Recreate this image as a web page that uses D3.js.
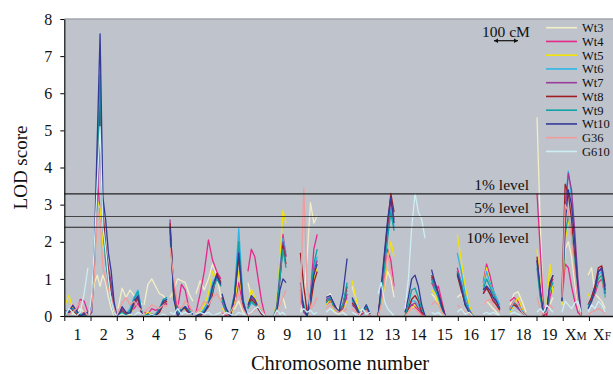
<!DOCTYPE html>
<html><head><meta charset="utf-8">
<script src="https://cdn.jsdelivr.net/npm/d3@7"></script>
<style>body{margin:0;background:#fff}svg{display:block}</style>
</head><body><svg id="c" width="613" height="374"></svg>
<script>
// ---------- data ----------
const chromosomes = ["1","2","3","4","5","6","7","8","9","10","11","12","13","14","15","16","17","18","19","XM","XF"];
// extent of each chromosome's curve along the axis (axis units: one unit per chromosome slot)
const chrStart = [0.03,0.94,2.05,3.04,4.03,5.02,6.01,7.0,7.99,9.0,9.98,10.97,11.96,12.99,14.0,14.98,15.97,16.99,18.02,18.97,19.97];
const chrEnd   = [0.9,2.0,2.96,3.92,4.9,5.97,6.97,7.65,8.45,9.64,10.78,11.65,12.57,13.75,14.52,15.58,16.6,17.6,18.63,19.70,20.62];
const yTicks = [0,1,2,3,4,5,6,7,8];
const thresholds = [3.29, 2.68, 2.39];
const thresholdLabels = ["1% level","5% level","10% level"];
const seriesNames = ["Wt3","Wt4","Wt5","Wt6","Wt7","Wt8","Wt9","Wt10","G36","G610"];
const seriesColors = ["#f3efc6","#e6288c","#f2e30a","#2cb6ea","#9a3c9c","#a01e22","#10a2a4","#333a98","#f19c9c","#cdeef5"];

const wt3 = [[0.1,0.15,0.05,0.1,0.2,0.1,0.05],[0,0.3,0.9,1.1,0.8,1.1,0.9,0.5,0.2,0,0],[0.2,0.75,0.5,0.7,0.55,0.45,0.3],[0.3,0.85,1.0,0.8,0.6,0.55,0.4],[0.5,0.7,1.0,0.95,0.9,0.6,0.4],[0.6,0.95,0.7,1.0,1.4,1.1,0.5],[0.1,0.05,0.1,0.2,0.4,0.1,0],[0.9,0.5,0.3,0.2,0.1,0],[0,0.1,0.3,0.5,0.2],[0.1,0.4,1.6,3.05,2.5,2.7],[0.5,0.6,0.3,0.2,0.1,0],[0.8,0.5,0.1,0.2,0.3,0.1],[0.1,0.3,0.8,1.2,1.0,0.5],[0,0.1,0.2,0.3,0.1,0.05,0],[0.6,0.5,0.3,0.1,0],[0.5,0.6,0.3,0.1,0],[0.3,0.4,0.3,0.2,0.1,0],[0.3,0.6,0.65,0.4,0.1],[5.35,2.5,0.3,0.1,0.3,0.5],[0.3,1.8,2.0,1.6,0.9,0.3,0],[1.1,1.3,0.6,0.5,0.4,0.2]];
const wt4 = [[0.15,0.1,0.3,0.1,0.45,0.4,0.1],[0,0.3,1.5,3.7,2.8,2.3,1.5,1.0,0.6,0.2,0],[0,0.1,0.05,0.15,0.2,0.35,0.1],[0.1,0.05,0.2,0.15,0.2,0.4,0.3],[2.1,0.8,0.2,0.85,0.7,0.2,0.1],[0.1,0.6,1.2,2.05,1.5,1.2,1.0],[0.1,0,0.1,0.3,0.9,0.3,0],[1.2,1.8,1.6,1.0,0.4,0],[0,0.3,1.2,2.2,1.6],[0.5,0.2,0.1,0.6,1.8,2.2],[0.3,0.4,0.2,0.1,0.3,0.5],[0.4,0.3,0.05,0.1,0.2,0],[0,0.4,1.0,1.8,1.5,0.8],[0.4,0.2,0.3,0.25,0.15,0.05,0],[0.9,0.7,0.8,0.4,0],[1.3,0.9,0.4,0.1,0],[0.9,1.4,1.1,0.7,0.4,0.2],[0.4,0.5,0.4,0.2,0],[3.3,1.8,0.3,0,0.5,0.8],[0.4,1.4,1.3,0.8,0.4,0.1,0],[0.2,0.4,0.6,0.9,1.0,0.5]];
const wt5 = [[0.3,0.55,0.2,0.05,0,0.1,0.05],[0,0.2,1.2,3.1,2.9,1.9,1.6,1.3,0.8,0.2,0],[0,0.05,0.1,0,0.3,0.5,0.1],[0,0.1,0.05,0,0.1,0.3,0.35],[2.2,0.4,0.05,0.15,0.2,0.15,0.1],[0.05,0.1,0.3,0.6,1.2,1.0,0.9],[0.2,0.1,0,0.3,1.2,0.4,0],[0.3,0.72,0.5,0.3,0.1,0],[0,0.4,1.5,2.85,2.5],[0.8,0.2,0,0.3,1.0,1.3],[0.3,0.45,0.1,0.05,0.2,0.4],[0.95,0.5,0.1,0.15,0.25,0.05],[0,0.3,0.8,1.5,2.0,1.6],[0,0.1,0.2,0.3,0.2,0.1,0],[0.7,0.6,0.3,0.1,0],[2.2,1.5,0.8,0.3,0],[0.8,1.3,0.9,0.6,0.3,0.2],[0.1,0.3,0.5,0.2,0],[1.8,0.8,0.1,0.2,1.4,0.6],[0.3,2.0,2.6,2.2,1.3,0.5,0],[0.6,0.4,0.7,1.0,1.1,0.5]];
const wt6 = [[0.05,0.2,0.15,0.05,0,0.05,0.1],[0,0.1,1.5,3.5,5.5,2.4,1.6,1.2,0.8,0.2,0],[0,0.1,0.05,0.2,0.5,0.7,0.1],[0,0,0.05,0,0.15,0.4,0.45],[2.3,0.5,0.1,0.2,0.25,0.1,0.15],[0,0.05,0.2,0.4,0.9,1.1,0.9],[0.4,0.1,0.05,0.6,2.35,0.5,0],[0.2,0.35,0.3,0.2,0.1,0],[0,0.3,1.3,2.1,1.7],[0.8,0.2,0.1,0.6,1.3,1.6],[0.4,0.5,0.2,0.1,0.3,0.7],[0.4,0.3,0.1,0.1,0.3,0.1],[0,0.6,1.4,2.2,2.9,2.4],[0,0.2,0.4,0.4,0.3,0.1,0],[1.0,0.8,0.5,0.2,0],[1.7,1.2,0.6,0.2,0],[0.8,1.2,0.9,0.7,0.5,0.3],[0.2,0.35,0.3,0.15,0],[1.4,0.6,0.1,0.2,0.7,0.9],[0.5,3.0,3.9,3.2,2.0,0.8,0.1],[0.2,0.5,0.8,1.1,1.2,0.5]];
const wt7 = [[0.1,0.05,0.2,0.1,0,0.1,0.05],[0,0.1,1.4,3.2,4.8,2.6,1.8,1.3,0.9,0.3,0],[0,0.2,0.1,0.05,0.3,0.45,0.05],[0,0.05,0,0.05,0.1,0.3,0.35],[2.6,0.5,0,0.15,0.25,0.1,0.05],[0,0.1,0.1,0.3,0.7,1.05,0.8],[0.4,0.1,0,0.5,1.8,0.4,0],[0.25,0.5,0.4,0.2,0.05,0],[0,0.2,1.1,2.0,1.6],[0.7,0.1,0,0.4,1.2,1.5],[0.45,0.5,0.3,0.1,0.2,0.6],[0.3,0.2,0.05,0.05,0.2,0],[0,0.7,1.5,2.4,3.1,2.6],[0.1,0.2,0.3,0.35,0.2,0.1,0],[1.05,0.8,0.6,0.3,0],[1.2,0.8,0.4,0.15,0],[0.6,0.8,0.6,0.5,0.3,0.2],[0.25,0.3,0.2,0.1,0],[1.5,0.6,0.05,0.1,0.8,1.0],[0.4,2.8,3.85,3.4,2.3,1.0,0.1],[0.3,0.5,0.8,1.2,1.25,0.6]];
const wt8 = [[0.05,0.1,0.15,0.05,0,0.05,0],[0,0.2,1.6,3.8,5.8,2.8,1.9,1.2,0.6,0.1,0],[0,0.15,0.05,0.1,0.35,0.5,0.05],[0,0,0.05,0,0.1,0.35,0.4],[2.5,0.6,0.05,0.2,0.2,0.05,0.1],[0,0,0.1,0.25,0.6,1.15,0.9],[0.5,0.2,0,0.5,1.6,0.3,0],[0.2,0.45,0.35,0.2,0.05,0],[0,0.2,1.0,1.9,1.4],[1.7,0.8,0.1,0.3,0.9,1.2],[0.4,0.45,0.25,0.1,0.3,0.8],[0.35,0.25,0,0.1,0.2,0.05],[0,0.7,1.6,2.5,3.3,2.8],[0,0.2,0.45,0.55,0.4,0.1,0],[1.1,0.9,0.6,0.3,0],[1.1,0.7,0.3,0.1,0],[0.6,0.75,0.6,0.4,0.3,0.15],[0.2,0.3,0.25,0.1,0],[1.6,0.7,0,0.1,0.8,1.1],[0.6,3.55,3.3,2.6,1.6,0.6,0],[0.3,0.5,0.8,1.3,1.35,0.8]];
const wt9 = [[0,0.15,0.2,0.1,0.05,0,0.05],[0,0.2,1.8,4.0,6.5,2.5,1.5,0.9,0.4,0.1,0],[0,0.1,0,0.15,0.45,0.65,0.1],[0,0.05,0,0.05,0.2,0.45,0.5],[2.3,0.5,0.05,0.2,0.25,0.15,0.05],[0,0.05,0.15,0.3,0.7,1.0,0.8],[0.45,0.15,0.05,0.6,2.0,0.4,0],[0.2,0.4,0.3,0.25,0.1,0],[0,0.2,1.0,1.8,1.3],[0.6,0.3,0,0.5,1.4,1.8],[0.35,0.5,0.2,0.15,0.3,0.9],[0.45,0.3,0.1,0.1,0.25,0.05],[0,0.6,1.3,2.1,2.8,2.3],[0,0.3,0.7,0.75,0.5,0.2,0],[1.0,0.7,0.5,0.2,0],[1.2,0.9,0.4,0.1,0],[0.7,1.0,0.8,0.6,0.4,0.2],[0.15,0.35,0.3,0.1,0],[1.3,0.5,0.1,0.1,0.7,0.9],[0.4,2.2,2.7,2.2,1.4,0.5,0],[0.3,0.4,0.7,1.0,1.1,0.6]];
const wt10 = [[0.05,0.1,0.28,0.15,0,0.05,0.1],[0,0.3,2.0,4.8,7.6,3.2,2.6,1.7,1.2,0.4,0],[0,0.25,0.1,0.05,0.4,0.55,0.05],[0,0,0.05,0,0.15,0.4,0.45],[2.4,0.45,0,0.15,0.25,0.1,0.05],[0,0.05,0.1,0.3,0.8,1.1,0.85],[0.6,0.2,0,0.55,1.7,0.4,0],[0.3,0.55,0.45,0.25,0.1,0],[0,0.1,0.7,1.0,0.9],[0.9,0.2,0,0.5,1.1,1.4],[0.5,0.55,0.3,0.1,0.6,1.55],[0.5,0.3,0.05,0.15,0.3,0.05],[0,0.8,1.7,2.6,3.2,2.5],[0.1,0.5,1.0,1.1,0.8,0.3,0],[1.25,0.9,0.6,0.25,0],[1.15,0.8,0.3,0.1,0],[0.7,0.8,0.7,0.5,0.4,0.2],[0.2,0.4,0.25,0.1,0],[1.5,0.7,0.1,0.1,0.9,1.1],[0.4,2.5,3.4,3.0,2.0,0.8,0],[0.2,0.4,0.7,1.2,1.3,0.7]];
const g36 = [[0.1,0.05,0.1,0.2,0.4,0.15,0],[0,0.2,1.2,2.8,2.6,1.3,1.0,0.7,0.5,0.2,0],[0.1,0.35,0.5,0.3,0.4,0.25,0.15],[0.1,0.2,0.3,0.25,0.2,0.3,0.25],[1.85,1.0,0.3,0.2,0.4,0.3,0.1],[0.1,0.2,0.4,0.3,0.5,0.6,0.4],[0.1,0.05,0.1,0.3,0.6,0.2,0],[0,0.1,0.15,0.3,0.2,0],[0,0.1,0.3,0.5,0.7],[0.3,3.45,0.8,0.2,0.3,0.5],[0.2,0.3,0.2,0.1,0.1,0.2],[0.2,0.1,0.05,0.1,0.15,0],[0,0.3,0.9,1.7,1.2,0.7],[0,0.1,0.2,0.2,0.1,0,0],[0.3,0.4,0.3,0.1,0],[0.3,0.2,0.1,0.05,0],[0.3,0.4,0.45,0.3,0.2,0.1],[0.2,0.4,0.3,0.1,0],[0.5,0.2,0.05,0.1,0.3,0.2],[0.5,3.0,2.8,2.1,1.2,0.4,0],[0.05,0.1,0.15,0.2,0.15,0.05]];
const g610 = [[0,0.2,0.1,0,0.1,0.6,1.3],[0,0.6,2.0,3.6,5.1,2.4,1.8,1.0,0.4,0.1,0],[0,0.05,0,0.05,0,0.1,0.05],[0,0,0.05,0,0,0.05,0],[0.1,0.05,0.2,0.05,0.1,0.05,0.1],[0.05,0.1,0.05,0.1,0,0.05,0.1],[0,0.1,0.05,0,0.1,0.05,0],[0.05,0.1,0.2,0.25,0.1,0],[0,0.15,0.05,0.1,0],[0.1,0.2,0.1,0.15,0.05,0.1],[0.1,0.2,0.1,0.05,0.1,0],[0.1,0.05,0,0.2,0.05,0.1],[0.6,0.9,0.4,0.2,0.1,0],[0.2,1.0,2.4,3.3,2.8,2.6,2.1],[0.1,0.05,0.1,0,0],[0.1,0.2,0.05,0.1,0],[0.05,0.1,0.05,0.1,0.05,0],[0.05,0.1,0.05,0,0],[0.1,0.2,0.1,0.3,0.2,0.1],[0.1,0.4,0.3,0.2,0.35,0.4,0.1],[0.1,0.3,0.2,0.4,0.3,0.1]];
const seriesValues = [wt3,wt4,wt5,wt6,wt7,wt8,wt9,wt10,g36,g610];

// ---------- drawing ----------
const W = 613, H = 374;
const svg = d3.select("#c");
const serif = "'Liberation Serif','Times New Roman',serif";
const x = d3.scaleLinear().domain([0, 21]).range([64.3, 615.2]);
const y = d3.scaleLinear().domain([0, 8]).range([316, 19]);

svg.append("defs").append("clipPath").attr("id","clip")
  .append("rect").attr("x", x(0)).attr("y", y(8)).attr("width", W - x(0)).attr("height", y(0) - y(8));

svg.append("rect").attr("x", x(0)).attr("y", y(8)).attr("width", W - x(0)).attr("height", y(0) - y(8)).attr("fill", "#bfc3cb");
svg.append("line").attr("x1", x(0)).attr("x2", W).attr("y1", y(8)).attr("y2", y(8)).attr("stroke", "#a2a6ab").attr("stroke-width", 1.5);

// series
const line = d3.line().x(d => x(d[0])).y(d => y(d[1]));
const plot = svg.append("g").attr("clip-path", "url(#clip)");
seriesValues.forEach((s, i) => {
  s.forEach((vals, c) => {
    const n = vals.length;
    const pts = vals.map((v, j) => [chrStart[c] + (chrEnd[c] - chrStart[c]) * j / (n - 1), v]);
    plot.append("path").attr("d", line(pts)).attr("fill", "none")
      .attr("stroke", seriesColors[i]).attr("stroke-width", 1.3).attr("stroke-linejoin", "round");
  });
});

// thresholds
const thrG = svg.append("g");
thresholds.forEach((t, i) => {
  thrG.append("line").attr("x1", x(0)).attr("x2", W).attr("y1", y(t)).attr("y2", y(t))
    .attr("stroke", i === 1 ? "#444" : "#222").attr("stroke-width", 1.2);
  thrG.append("text").attr("x", 529).attr("y", y(t) + (i === 2 ? 16 : -4))
    .attr("text-anchor", "end").attr("font-family", serif).attr("font-size", 15.5).attr("fill", "#111")
    .text(thresholdLabels[i]);
});

// y axis
const yAx = svg.append("g").attr("transform", `translate(${x(0)},0)`)
  .call(d3.axisLeft(y).tickValues(yTicks).tickSize(4).tickSizeOuter(0).tickPadding(8));
yAx.selectAll("text").attr("font-family", serif).attr("font-size", 16).attr("fill", "#111");
yAx.select(".domain").attr("stroke", "#111").attr("stroke-width", 1.2);

// x axis
const xAx = svg.append("g").attr("transform", `translate(0,${y(0)})`)
  .call(d3.axisBottom(x).tickValues(d3.range(0, 21)).tickSize(5).tickSizeOuter(0).tickFormat(""));
xAx.select(".domain").attr("stroke", "#111").attr("stroke-width", 1.5);
xAx.selectAll(".tick line").attr("stroke", "#111");
chromosomes.forEach((c, i) => {
  const t = svg.append("text").attr("x", x(i + 0.5)).attr("y", 340).attr("text-anchor", "middle")
    .attr("font-family", serif).attr("font-size", 16).attr("fill", "#111");
  if (c.length === 2 && c[0] === "X") {
    t.append("tspan").text("X");
    t.append("tspan").attr("font-size", 11.5).text(c[1]);
  } else t.text(c);
});

// axis titles
svg.append("text").attr("transform", `translate(27,${(y(0) + y(8)) / 2}) rotate(-90)`)
  .attr("text-anchor", "middle").attr("font-family", serif).attr("font-size", 19).attr("fill", "#111").text("LOD score");
svg.append("text").attr("x", 340).attr("y", 370).attr("text-anchor", "middle")
  .attr("font-family", serif).attr("font-size", 20.5).attr("fill", "#111").text("Chromosome number");

// scale bar
svg.append("text").attr("x", 506).attr("y", 36.5).attr("text-anchor", "middle")
  .attr("font-family", serif).attr("font-size", 15.5).attr("fill", "#111").text("100 cM");
const sb = svg.append("g").attr("stroke", "#111").attr("fill", "#111");
sb.append("line").attr("x1", 494).attr("x2", 518).attr("y1", 40.7).attr("y2", 40.7).attr("stroke-width", 1.2);
sb.append("path").attr("d", "M494,40.7 l4,-2.2 v4.4 z M518,40.7 l-4,-2.2 v4.4 z").attr("stroke", "none");

// legend
const leg = svg.append("g");
seriesNames.forEach((nm, i) => {
  const ly = 27.7 + i * 13.75;
  leg.append("line").attr("x1", 546).attr("x2", 577).attr("y1", ly).attr("y2", ly)
    .attr("stroke", seriesColors[i]).attr("stroke-width", 1.6);
  leg.append("text").attr("x", 582).attr("y", ly + 4.5).attr("font-family", serif)
    .attr("font-size", 12.5).attr("fill", "#111").text(nm);
});
</script></body></html>
